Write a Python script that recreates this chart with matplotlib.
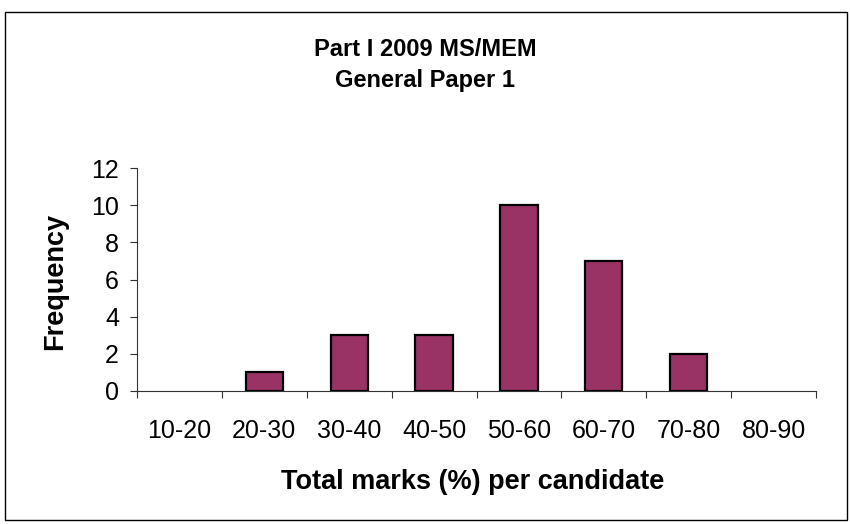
import matplotlib.pyplot as plt
from matplotlib.patches import Rectangle

plt.rcParams["font.family"] = ["Liberation Sans", "DejaVu Sans"]

# Marks distribution for the paper
bins = ["10-20", "20-30", "30-40", "40-50", "50-60", "60-70", "70-80", "80-90"]
counts = [0, 1, 3, 3, 10, 7, 2, 0]
y_ticks = [0, 2, 4, 6, 8, 10, 12]

fig = plt.figure(figsize=(8.5, 5.24), dpi=100)
ax = fig.add_axes([137 / 850, 1 - 391 / 524, 679 / 850, 223 / 524])

x = list(range(len(bins)))
# empty classes get no outline so nothing shows on the baseline
edge_widths = [1.6 if c > 0 else 0 for c in counts]
ax.bar(x, counts, width=0.44, color="#993366", edgecolor="black", linewidth=edge_widths)

ax.set_xlim(-0.5, len(bins) - 0.5)
ax.set_ylim(0, 12)
ax.set_yticks(y_ticks)

# tick marks sit between categories, labels sit under the bars
ax.set_xticks([i - 0.5 for i in range(len(bins) + 1)])
ax.set_xticklabels([])
ax.set_xticks(x, minor=True)
ax.set_xticklabels(bins, minor=True)
ax.tick_params(axis="x", which="major", length=5, width=0.8, color="#333333", direction="out")
ax.tick_params(axis="x", which="minor", length=0, pad=20, labelsize=18)
ax.tick_params(axis="y", length=5, width=0.8, color="#333333", pad=8, labelsize=18)

for side in ["top", "right"]:
    ax.spines[side].set_visible(False)
for side in ["left", "bottom"]:
    ax.spines[side].set_linewidth(0.8)
    ax.spines[side].set_color("#333333")

fig.text(0.5, 1 - 50 / 524, "Part I 2009 MS/MEM", ha="center", va="center",
         fontsize=17, fontweight="bold")
fig.text(0.5, 1 - 81 / 524, "General Paper 1", ha="center", va="center",
         fontsize=17, fontweight="bold")
fig.text(473 / 850, 1 - 482 / 524, "Total marks (%) per candidate", ha="center", va="center",
         fontsize=19.5, fontweight="bold")
fig.text(55 / 850, 1 - 281 / 524, "Frequency", ha="center", va="center", rotation=90,
         fontsize=19.5, fontweight="bold")

# chart frame
fig.patches.append(Rectangle((5 / 850, 1 - 520 / 524), 842 / 850, 508 / 524,
                             transform=fig.transFigure, fill=False,
                             edgecolor="black", linewidth=1.0))

fig.savefig("out.png", dpi=100)
